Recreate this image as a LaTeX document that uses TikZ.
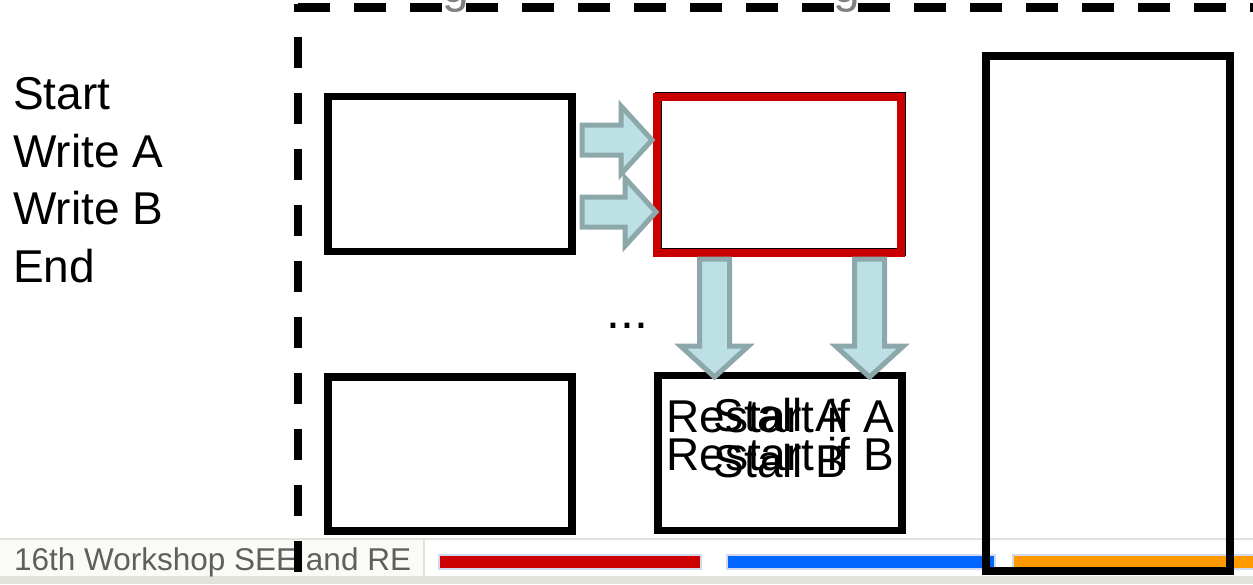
\documentclass[tikz,border=0pt]{standalone}
\usepackage{fontspec}
\setmainfont{Liberation Sans}
\usepackage{tikz}
\usetikzlibrary{calc}
\definecolor{stopred}{RGB}{200,0,0}
\definecolor{flowfill}{RGB}{189,224,228}
\definecolor{flowline}{RGB}{141,168,170}
\definecolor{footgray}{RGB}{95,95,95}
\definecolor{titlegray}{RGB}{128,128,128}
\definecolor{footbg}{RGB}{250,250,246}
\definecolor{footline}{RGB}{226,226,220}
\definecolor{barred}{RGB}{204,0,0}
\definecolor{barblue}{RGB}{0,102,255}
\definecolor{barorange}{RGB}{255,153,0}
\definecolor{barframe}{RGB}{210,218,240}
\tikzset{unit/.style={draw,line width=7.5pt,minimum width=244pt,minimum height=155pt,inner sep=0pt,outer sep=0pt},
 flowarrow/.style={fill=flowfill,draw=flowline,line width=5pt,line join=miter},
 pics/flow/.style={code={
   \draw[flowarrow] (0,-15) -- (#1-31,-15) -- (#1-31,-34) -- (#1,0)
     -- (#1-31,34) -- (#1-31,15) -- (0,15) -- cycle;}},
 big/.style={font=\fontsize{46}{57.5}\selectfont},
 bar/.style={draw=barframe,line width=1.5pt},
 }

\begin{document}
\begin{tikzpicture}[x=1pt,y=-1pt]
    \useasboundingbox (0,0) rectangle (1253,584);
    \clip (0,0) rectangle (1253,584);
    % footer strip
    \fill[footbg] (0,539) rectangle (1253,584);
    \fill[white] (425,540) rectangle (1253,576);
    \draw[footline,line width=1.5pt] (0,539) -- (1253,539);
    \draw[footline,line width=1.5pt] (424,539) -- (424,576);
    \fill[footline] (0,576) rectangle (1253,584);
    \fill[barred,bar] (439,555) rectangle (701,569);
    \fill[barblue,bar] (727,555) rectangle (995,569);
    \fill[barorange,bar] (1013,555) rectangle (1262,569);
    \node[anchor=base west,inner sep=0pt,text=footgray,font=\fontsize{31.5}{36}\selectfont] (foot) at (14,570) {16th Workshop SEE and RE};
    % title tails
    \node[anchor=base,inner sep=0pt,text=titlegray,font=\fontsize{48}{48}\selectfont] (gleft) at (456,2) {g};
    \node[anchor=base,inner sep=0pt,text=titlegray,font=\fontsize{48}{48}\selectfont] (gright) at (847,2) {g};
    % program (base = last line)
    \node[big,align=left,anchor=base west,inner sep=0pt] (prog) at (13,282) {Start\\Write A\\Write B\\End};
    % boxes
    \node[unit] (upper) at (450,174) {};
    \node[unit,minimum height=156pt] (checkbase) at (780.5,174) {};
    \node[unit,draw=stopred,minimum height=156pt] (checker) at (779,175) {};
    \node[unit,minimum height=154pt] (lower) at (450,454) {};
    \node[unit] (reaction) at (780,453) {};
    \node[unit,minimum height=515pt] (column) at (1108,313.5) {};
    % flow arrows
    \pic at ([shift={(10,-34)}]upper.east) {flow=70};
    \pic at ([shift={(10,38)}]upper.east) {flow=74};
    \pic[rotate=-90] at ([shift={(-64.5,6)}]checker.south) {flow=118};
    \pic[rotate=-90] at ([shift={(90.5,6)}]checker.south) {flow=118};
    \node[anchor=base west,inner sep=0pt,font=\fontsize{50}{50}\selectfont] (dots) at (606,328) {...};
    % overlaid labels
    \node[align=center,anchor=base,inner sep=0pt,font={\fontsize{46}{38}\selectfont\lineskiplimit=-50pt}] (restart) at (780,470) {Restart if A\\Restart if B};
    \node[align=center,anchor=base,inner sep=0pt,font=\fontsize{46}{46}\selectfont] (stall) at (780,477) {Stall A\\Stall B};
    % dashed frame
    \draw[line width=8.5pt,dash pattern=on 32pt off 24pt] (298,7.5) -- (1270,7.5);
    \draw[line width=8pt,dash pattern=on 31pt off 25pt,dash phase=23pt] (298,4) -- (298,600);
\end{tikzpicture}
\end{document}
